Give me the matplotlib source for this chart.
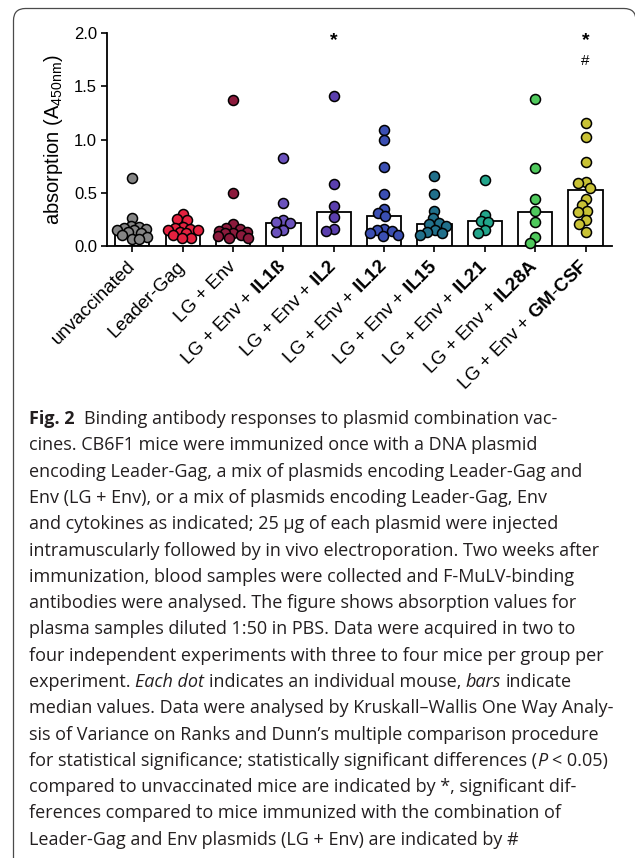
import numpy as np
import matplotlib
matplotlib.use('Agg')
import matplotlib.pyplot as plt
from matplotlib.path import Path
from matplotlib.patches import PathPatch

plt.rcParams['font.family'] = ['Liberation Sans', 'DejaVu Sans']
plt.rcParams['mathtext.fontset'] = 'custom'
plt.rcParams['mathtext.rm'] = 'Liberation Sans'
plt.rcParams['mathtext.it'] = 'Liberation Sans:italic'
plt.rcParams['mathtext.bf'] = 'Liberation Sans:bold'

# groups: plain part of the label + cytokine shown in bold
label_base = ['unvaccinated', 'Leader-Gag', 'LG + Env', 'LG + Env +', 'LG + Env +',
              'LG + Env +', 'LG + Env +', 'LG + Env +', 'LG + Env +', 'LG + Env +']
cytokines = ['', '', '', 'IL1ß', 'IL2', 'IL12', 'IL15', 'IL21', 'IL28A', 'GM-CSF']
colors = ['#858585', '#e5213f', '#8c1a3c', '#6b52bd', '#5b3fae', '#3b4fb3',
          '#21708b', '#22a58b', '#4fc95c', '#c9c235']

# absorption per mouse (A450nm)
unvaccinated = [0.64, 0.26, 0.19, 0.18, 0.17, 0.16, 0.15, 0.15, 0.13, 0.12, 0.10, 0.08, 0.06, 0.06]
leader_gag = [0.30, 0.25, 0.24, 0.18, 0.17, 0.16, 0.15, 0.15, 0.13, 0.12, 0.10, 0.07, 0.07]
lg_env = [1.37, 0.50, 0.20, 0.17, 0.16, 0.14, 0.13, 0.12, 0.12, 0.10, 0.09, 0.07, 0.07]
il1b = [0.83, 0.40, 0.24, 0.22, 0.21, 0.15, 0.13]
il2 = [1.41, 0.58, 0.37, 0.27, 0.16, 0.14]
il12 = [1.09, 1.00, 0.74, 0.49, 0.35, 0.31, 0.28, 0.16, 0.15, 0.14, 0.12, 0.10, 0.09]
il15 = [0.66, 0.49, 0.33, 0.26, 0.21, 0.20, 0.19, 0.15, 0.13, 0.12, 0.10]
il21 = [0.62, 0.29, 0.23, 0.22, 0.15, 0.12]
il28a = [1.38, 0.73, 0.44, 0.33, 0.22, 0.08, 0.03]
gmcsf = [1.16, 1.02, 0.79, 0.60, 0.59, 0.54, 0.44, 0.38, 0.33, 0.32, 0.24, 0.20, 0.13]
values = [unvaccinated, leader_gag, lg_env, il1b, il2, il12, il15, il21, il28a, gmcsf]

medians = [0.155, 0.155, 0.13, 0.215, 0.32, 0.28, 0.20, 0.23, 0.32, 0.52]
star_vs_unvacc = [False, False, False, False, True, False, False, False, False, True]
hash_vs_lgenv = [False, False, False, False, False, False, False, False, False, True]

caption = [
    [('Fig. 2', 'b'), ('  Binding antibody responses to plasmid combination vac-', 'n')],
    [('cines. CB6F1 mice were immunized once with a DNA plasmid', 'n')],
    [('encoding Leader-Gag, a mix of plasmids encoding Leader-Gag and', 'n')],
    [('Env (LG + Env), or a mix of plasmids encoding Leader-Gag, Env', 'n')],
    [('and cytokines as indicated; 25 µg of each plasmid were injected', 'n')],
    [('intramuscularly followed by in vivo electroporation. Two weeks after', 'n')],
    [('immunization, blood samples were collected and F-MuLV-binding', 'n')],
    [('antibodies were analysed. The figure shows absorption values for', 'n')],
    [('plasma samples diluted 1:50 in PBS. Data were acquired in two to', 'n')],
    [('four independent experiments with three to four mice per group per', 'n')],
    [('experiment. ', 'n'), ('Each dot', 'i'), (' indicates an individual mouse, ', 'n'),
     ('bars', 'i'), (' indicate', 'n')],
    [('median values. Data were analysed by Kruskall\u2013Wallis One Way Analy-', 'n')],
    [('sis of Variance on Ranks and Dunn\u2019s multiple comparison procedure', 'n')],
    [('for statistical significance; statistically significant differences (', 'n'),
     ('P', 'i'), (' < 0.05)', 'n')],
    [('compared to unvaccinated mice are indicated by *, significant dif-', 'n')],
    [('ferences compared to mice immunized with the combination of', 'n')],
    [('Leader-Gag and Env plasmids (LG + Env) are indicated by #', 'n')],
]

W, H = 635, 858
fig = plt.figure(figsize=(W / 100, H / 100), dpi=100)
renderer = fig.canvas.get_renderer()

# page frame: rounded top corners, left side visible, right side just off the crop
fl, fr, ft, rad = 13.5, 636.0, 8.5, 12.0
verts = [(fl, H + 5), (fl, ft + rad), (fl, ft), (fl + rad, ft), (fr - rad, ft), (fr, ft),
         (fr, ft + rad), (fr, H + 5)]
codes = [Path.MOVETO, Path.LINETO, Path.CURVE3, Path.CURVE3, Path.LINETO, Path.CURVE3,
         Path.CURVE3, Path.LINETO]
verts = [(vx, H - vy) for vx, vy in verts]
fig.patches.append(PathPatch(Path(verts, codes), transform=None, facecolor='none',
                             edgecolor='#4a4a4a', linewidth=0.9))

ax_l, ax_r, ax_b, ax_t = 106.7, 611.7, 245.7, 33.3
ax = fig.add_axes([ax_l / W, 1 - ax_b / H, (ax_r - ax_l) / W, (ax_b - ax_t) / H])
x = np.arange(len(values))
ax.set_xlim(-0.51, 9.52)
ax.set_ylim(0, 2.0)

ax.bar(x, medians, width=0.68, color='white', edgecolor='black', linewidth=1.3, zorder=2)

# scatter-dot layout in pixel space, kept inside the bar width
px_x = (ax_r - ax_l) / (9.52 + 0.51)
px_y = (ax_b - ax_t) / 2.0
dmin = 7.5
maxw = 15.0
grid = np.arange(-maxw, maxw + 0.01, 0.5)


def swarm(vals):
    ys = np.asarray(vals) * px_y
    offs = np.zeros(len(ys))
    done = []
    for i in np.argsort(-ys):
        if not done:
            done.append(i)
            continue
        dist = np.array([np.min([np.hypot(g - offs[j], ys[i] - ys[j]) for j in done]) for g in grid])
        ok = dist >= dmin
        if ok.any():
            cand = grid[ok]
            offs[i] = cand[np.argmin(np.abs(cand))]
        else:
            offs[i] = grid[np.argmax(dist)]
        done.append(i)
    return offs / px_x


for i, vals in enumerate(values):
    ax.scatter(x[i] + swarm(vals), vals, s=52, color=colors[i], edgecolor='black',
               linewidth=1.1, zorder=3, clip_on=False)
    if star_vs_unvacc[i]:
        ax.text(x[i], 1.93, '*', ha='center', va='center', fontsize=14, fontweight='bold')
    if hash_vs_lgenv[i]:
        ax.text(x[i], 1.74, '#', ha='center', va='center', fontsize=11)

labels = []
for b, c in zip(label_base, cytokines):
    if not c:
        labels.append(b)
    elif '-' in c:
        p1, p2 = c.split('-')
        labels.append(b + ' $\\mathbf{' + p1 + '}$-$\\mathbf{' + p2 + '}$')
    else:
        labels.append(b + ' $\\mathbf{' + c + '}$')
ax.set_xticks(x)
ax.set_xticklabels(labels, rotation=45, ha='right', va='center', rotation_mode='anchor',
                   fontsize=13.5)
ax.set_yticks([0, 0.5, 1.0, 1.5, 2.0])
ax.set_yticklabels(['0.0', '0.5', '1.0', '1.5', '2.0'], fontsize=12)
ax.tick_params(axis='both', direction='out', length=4, width=1.2, color='black')
ax.tick_params(axis='x', pad=9)
ax.tick_params(axis='y', pad=3)
for s in ['top', 'right']:
    ax.spines[s].set_visible(False)
for s in ['left', 'bottom']:
    ax.spines[s].set_linewidth(1.3)
ax.set_ylabel('absorption (A$_{\\mathrm{450nm}}$)', fontsize=14.5)
ax.yaxis.set_label_coords(-0.082, 0.5)

# caption, drawn run by run
cap_font = 'Open Sans'
styles = {'n': {}, 'b': {'fontweight': 'bold'}, 'i': {'style': 'italic'}}


def text_w(s, size, st):
    t = fig.text(0, 0, s, fontsize=size, family=[cap_font, 'DejaVu Sans'], **styles[st])
    w = t.get_window_extent(renderer).width
    t.remove()
    return w


def adv(s, size, st):
    return text_w('|' + s + '|', size, st) - text_w('||', size, st)


ref_line = 'intramuscularly followed by in vivo electroporation. Two weeks after'
cap_size = 10 * 571 / adv(ref_line, 10, 'n')
cap_x0, cap_y0, cap_dy = 29, 419, 26.3
for k, line in enumerate(caption):
    xx = cap_x0
    yy = cap_y0 + k * cap_dy
    for txt, st in line:
        lead = len(txt) - len(txt.lstrip(' '))
        trail = len(txt) - len(txt.rstrip(' '))
        core = txt.strip(' ')
        xx += lead * adv(' ', cap_size, st)
        fig.text(xx / W, 1 - yy / H, core, fontsize=cap_size, family=[cap_font, 'DejaVu Sans'],
                 ha='left', va='center', color='#231f20', **styles[st])
        xx += adv(core, cap_size, st) + trail * adv(' ', cap_size, st)

fig.savefig('out.png', dpi=100)
